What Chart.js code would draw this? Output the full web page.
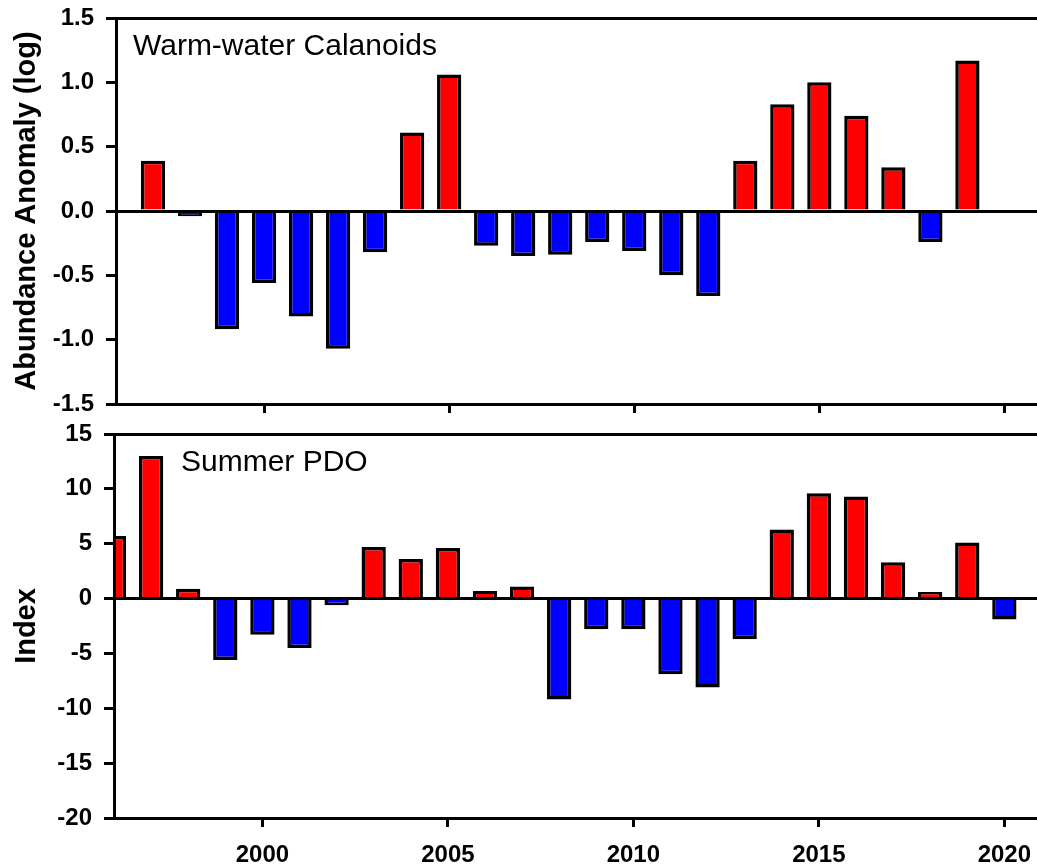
<!DOCTYPE html>
<html>
<head>
<meta charset="utf-8">
<script src="https://cdn.jsdelivr.net/npm/chart.js@4/dist/chart.umd.min.js"></script>
<style>
  html, body { margin: 0; padding: 0; background: #fff; }
  #wrap { position: relative; width: 1037px; height: 867px; overflow: hidden; }
  canvas { position: absolute; left: 0; }
  #calanoids { top: 0; }
  #pdo { top: 420px; }
</style>
</head>
<body>
<div id="wrap">
  <canvas id="calanoids" width="1037" height="420"></canvas>
  <canvas id="pdo" width="1037" height="447"></canvas>
</div>
<script>
// Warm-water calanoid copepod abundance anomaly (log), by year
const CALANOID_YEARS = [1997, 1998, 1999, 2000, 2001, 2002, 2003, 2004, 2005, 2006, 2007, 2008,
                        2009, 2010, 2011, 2012, 2013, 2014, 2015, 2016, 2017, 2018, 2019];
const CALANOID_ANOMALY = [0.39, -0.04, -0.92, -0.56, -0.82, -1.07, -0.32, 0.61, 1.06, -0.27, -0.35, -0.34,
                          -0.24, -0.31, -0.50, -0.66, 0.39, 0.83, 1.00, 0.74, 0.34, -0.24, 1.17];

// Summer Pacific Decadal Oscillation index, by year
const PDO_YEARS = [1996, 1997, 1998, 1999, 2000, 2001, 2002, 2003, 2004, 2005, 2006, 2007, 2008,
                   2009, 2010, 2011, 2012, 2013, 2014, 2015, 2016, 2017, 2018, 2019, 2020];
const PDO_INDEX = [5.7, 13.0, 0.9, -5.6, -3.3, -4.5, -0.6, 4.7, 3.6, 4.6, 0.7, 1.1, -9.2,
                   -2.8, -2.8, -6.9, -8.1, -3.7, 6.3, 9.6, 9.3, 3.3, 0.6, 5.1, -1.9];

// Axis ticks
const YEAR_TICKS = [2000, 2005, 2010, 2015, 2020];
const CALANOID_TICKS = [-1.5, -1.0, -0.5, 0.0, 0.5, 1.0, 1.5];
const PDO_TICKS = [-20, -15, -10, -5, 0, 5, 10, 15];

const YEAR_MIN = 1996;
const YEAR_MAX = 2020.88;

const FONT = '"Liberation Sans", Arial, Helvetica, sans-serif';
const POSITIVE = '#ff0000';
const NEGATIVE = '#0000ff';
const INK = '#000000';

// Label written inside the plot area, near its upper-left corner
const panelLabel = {
  id: 'panelLabel',
  afterDraw(chart, args, opts) {
    const { ctx, chartArea } = chart;
    ctx.save();
    ctx.font = '30px ' + FONT;
    ctx.fillStyle = INK;
    ctx.textAlign = 'left';
    ctx.textBaseline = 'alphabetic';
    ctx.fillText(opts.text, chartArea.left + opts.dx, chartArea.top + opts.dy);
    ctx.restore();
  }
};

function makePanel(canvasId, years, values, cfg) {
  const yMax = cfg.yTicks[cfg.yTicks.length - 1];
  return new Chart(document.getElementById(canvasId), {
    type: 'bar',
    data: {
      datasets: [{
        data: years.map((x, i) => ({ x: x, y: values[i] })),
        backgroundColor: c => (c.raw && c.raw.y >= 0 ? POSITIVE : NEGATIVE),
        borderColor: INK,
        borderWidth: 3.5,
        borderSkipped: 'start',
        barPercentage: 0.655,
        categoryPercentage: 1,
        clip: { left: -2, right: 0, top: 0, bottom: 0 }
      }]
    },
    plugins: [panelLabel],
    options: {
      responsive: false,
      animation: false,
      devicePixelRatio: 1,
      layout: { autoPadding: false, padding: { top: cfg.padTop, left: 0, right: 0, bottom: 0 } },
      plugins: {
        legend: { display: false },
        tooltip: { enabled: false },
        panelLabel: { text: cfg.label, dx: cfg.labelDx, dy: 37 }
      },
      scales: {
        x: {
          type: 'linear',
          min: YEAR_MIN,
          max: YEAR_MAX,
          offset: false,
          afterBuildTicks: s => { s.ticks = YEAR_TICKS.map(v => ({ value: v })); },
          afterFit: s => { s.height = cfg.xHeight; s.paddingLeft = 0; s.paddingRight = 0; },
          ticks: {
            display: cfg.xLabels,
            color: INK,
            font: { family: FONT, size: 24, weight: 'bold' },
            padding: 14,
            maxRotation: 0,
            autoSkip: false,
            callback: v => String(v)
          },
          grid: {
            offset: false,
            drawOnChartArea: false,
            drawTicks: true,
            tickLength: 9,
            tickWidth: 3,
            tickColor: INK,
            z: 1
          },
          border: { display: true, color: INK, width: 3, z: 1 }
        },
        y: {
          type: 'linear',
          min: cfg.yTicks[0],
          max: yMax,
          afterBuildTicks: s => { s.ticks = cfg.yTicks.map(v => ({ value: v })); },
          afterFit: s => { s.width = cfg.yWidth; s.paddingTop = 0; s.paddingBottom = 0; },
          ticks: {
            color: INK,
            font: { family: FONT, size: 24, weight: 'bold' },
            padding: 12,
            callback: cfg.yFormat
          },
          grid: {
            drawOnChartArea: true,
            color: c => (c.tick && (c.tick.value === 0 || c.tick.value === yMax) ? INK : 'rgba(0,0,0,0)'),
            lineWidth: 3,
            drawTicks: true,
            tickLength: 10,
            tickWidth: 3,
            tickColor: INK,
            z: 1
          },
          border: { display: true, color: INK, width: 3, z: 1 },
          title: {
            display: true,
            text: cfg.yTitle,
            color: INK,
            font: { family: FONT, size: 29, weight: 'bold' },
            padding: { top: 10, bottom: 0 }
          }
        }
      }
    }
  });
}

makePanel('calanoids', CALANOID_YEARS, CALANOID_ANOMALY, {
  yTicks: CALANOID_TICKS,
  yFormat: v => Number(v).toFixed(1),
  yTitle: 'Abundance Anomaly (log)',
  label: 'Warm-water Calanoids',
  labelDx: 17,
  padTop: 18,
  xHeight: 16,
  xLabels: false,
  yWidth: 116
});

makePanel('pdo', PDO_YEARS, PDO_INDEX, {
  yTicks: PDO_TICKS,
  yFormat: v => String(v),
  yTitle: 'Index',
  label: 'Summer PDO',
  labelDx: 67,
  padTop: 14,
  xHeight: 49,
  xLabels: true,
  yWidth: 114
});
</script>
</body>
</html>
